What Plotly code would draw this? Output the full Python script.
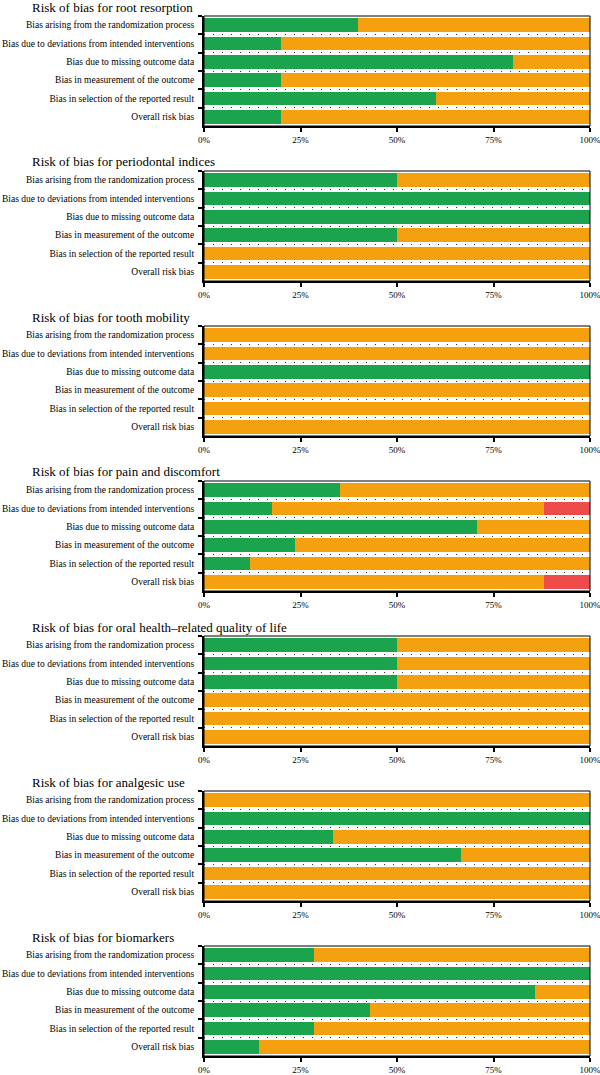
import plotly.graph_objects as go

categories = [
    "Bias arising from the randomization process",
    "Bias due to deviations from intended interventions",
    "Bias due to missing outcome data",
    "Bias in measurement of the outcome",
    "Bias in selection of the reported result",
    "Overall risk bias",
]

titles = [
    "Risk of bias for root resorption",
    "Risk of bias for periodontal indices",
    "Risk of bias for tooth mobility",
    "Risk of bias for pain and discomfort",
    "Risk of bias for oral health\u2013related quality of life",
    "Risk of bias for analgesic use",
    "Risk of bias for biomarkers",
]

# percentages: low risk (green), some concerns (orange), high risk (red)
root_low = [40, 20, 80, 20, 60, 20]
root_some = [60, 80, 20, 80, 40, 80]
root_high = [0, 0, 0, 0, 0, 0]

perio_low = [50, 100, 100, 50, 0, 0]
perio_some = [50, 0, 0, 50, 100, 100]
perio_high = [0, 0, 0, 0, 0, 0]

mobility_low = [0, 0, 100, 0, 0, 0]
mobility_some = [100, 100, 0, 100, 100, 100]
mobility_high = [0, 0, 0, 0, 0, 0]

pain_low = [35.3, 17.6, 70.6, 23.5, 11.8, 0]
pain_some = [64.7, 70.6, 29.4, 76.5, 88.2, 88.2]
pain_high = [0, 11.8, 0, 0, 0, 11.8]

qol_low = [50, 50, 50, 0, 0, 0]
qol_some = [50, 50, 50, 100, 100, 100]
qol_high = [0, 0, 0, 0, 0, 0]

analgesic_low = [0, 100, 33.3, 66.7, 0, 0]
analgesic_some = [100, 0, 66.7, 33.3, 100, 100]
analgesic_high = [0, 0, 0, 0, 0, 0]

bio_low = [28.6, 100, 85.7, 42.9, 28.6, 14.3]
bio_some = [71.4, 0, 14.3, 57.1, 71.4, 85.7]
bio_high = [0, 0, 0, 0, 0, 0]

panels = [
    (root_low, root_some, root_high),
    (perio_low, perio_some, perio_high),
    (mobility_low, mobility_some, mobility_high),
    (pain_low, pain_some, pain_high),
    (qol_low, qol_some, qol_high),
    (analgesic_low, analgesic_some, analgesic_high),
    (bio_low, bio_some, bio_high),
]

x_ticks = [0, 25, 50, 75, 100]
x_ticktext = ["0%", "25%", "50%", "75%", "100%"]

GREEN = "#1BA34D"
ORANGE = "#F5A00E"
RED = "#EE4B4B"
FONT = "Liberation Serif"

W, H = 600, 1075
X0, X1 = 204, 590
PITCH, TOP0, PH = 155, 16, 110

fig = go.Figure()
annotations = []
shapes = []

for i, (low, some, high) in enumerate(panels):
    n = i + 1
    xa = "x" if n == 1 else f"x{n}"
    ya = "y" if n == 1 else f"y{n}"
    for vals, col in ((low, GREEN), (some, ORANGE), (high, RED)):
        fig.add_trace(go.Bar(
            x=vals, y=categories, orientation="h",
            marker=dict(color=col, line=dict(width=0)),
            xaxis=xa, yaxis=ya, showlegend=False, hoverinfo="skip",
        ))
    top = TOP0 + PITCH * i
    bot = top + PH
    dom_y = [1 - bot / H, 1 - top / H]
    fig.update_layout(**{
        ("xaxis" if n == 1 else f"xaxis{n}"): dict(
            domain=[X0 / W, X1 / W], range=[-0.001, 100.001], anchor=ya,
            tickvals=x_ticks, ticktext=x_ticktext,
            ticks="outside", ticklen=4, tickwidth=1.5, tickcolor="black",
            showline=True, linecolor="black", linewidth=2,
            showgrid=False, zeroline=False, automargin=False,
            ticklabeloverflow="allow",
            tickfont=dict(family=FONT, size=9, color="black"),
            fixedrange=True,
        ),
        ("yaxis" if n == 1 else f"yaxis{n}"): dict(
            domain=dom_y, anchor=xa, type="category",
            categoryorder="array", categoryarray=categories,
            autorange="reversed", automargin=False,
            tickson="boundaries", ticks="outside", ticklen=4, tickwidth=1.5,
            tickcolor="black",
            showline=True, linecolor="black", linewidth=2,
            showgrid=True, gridcolor="#333333", gridwidth=1, griddash="1px,8px",
            zeroline=False, ticklabelstandoff=6,
            tickfont=dict(family=FONT, size=9.5, color="black"),
            fixedrange=True,
        ),
    })
    shapes.append(dict(
        type="rect", xref=f"{xa} domain", yref=f"{ya} domain",
        x0=0, x1=1, y0=0, y1=1, line=dict(color="black", width=1),
        fillcolor="rgba(0,0,0,0)", layer="above",
    ))
    annotations.append(dict(
        text=titles[i], xref="paper", yref="paper",
        x=30 / W, y=1 - (top - 9) / H, xanchor="left", yanchor="middle",
        showarrow=False, font=dict(family=FONT, size=13, color="black"),
    ))

fig.update_layout(
    width=W, height=H,
    margin=dict(l=0, r=0, t=0, b=0),
    barmode="stack", bargap=0.25,
    plot_bgcolor="white", paper_bgcolor="white",
    annotations=annotations, shapes=shapes,
    font=dict(family=FONT, color="black"),
)

fig.write_html("out.html")
